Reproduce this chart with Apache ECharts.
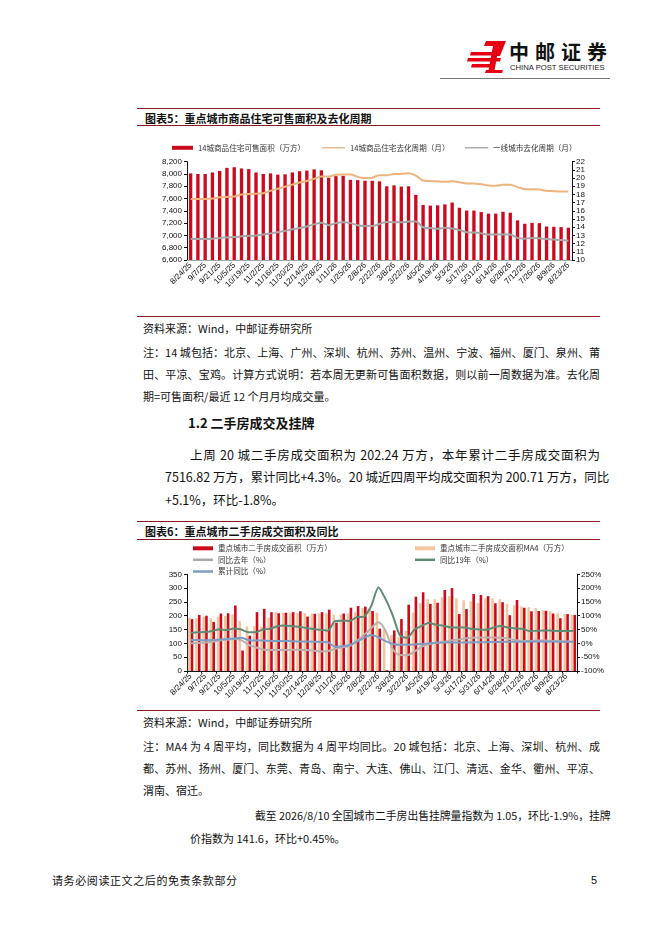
<!DOCTYPE html>
<html><head><meta charset="utf-8">
<script src="https://cdn.jsdelivr.net/npm/echarts@6/dist/echarts.min.js"></script>
<style>
html,body{margin:0;padding:0;background:#fff;}
#page{position:relative;width:662px;height:936px;overflow:hidden;font-family:"Noto Sans CJK SC","Noto Sans",sans-serif;color:#111;}
.t{position:absolute;white-space:nowrap;line-height:16px;height:16px;}
.j{text-align:justify;text-align-last:justify;}
.rl{position:absolute;height:1.4px;background:#8E1B22;}
.b{font-weight:bold;}
</style>
</head>
<body>
<div id="page">
  <svg style="position:absolute;left:0;top:0" width="662" height="100">
    <g fill="#E60012">
      <path d="M486,41 L506,41 L504,46 L484,46 Z"/>
      <path d="M471,52 L497,52 L496,55.5 L470,55.5 Z"/>
      <path d="M468,58 L501,58 L500,61.5 L467,61.5 Z"/>
      <path d="M472,64 L494,64 L493,67.5 L471,67.5 Z"/>
      <path d="M493,46 L499,46 L494,73 L488,73 Z"/>
      <path d="M486,70 L503,70 L502,73 L485,73 Z"/>
      <path d="M499,46 L504,46 L500,56 L496,56 Z"/>
    </g>
    <line x1="440" y1="78.5" x2="610" y2="78.5" stroke="#555" stroke-width="0.8"/>
  </svg>
  <div class="t b" style="left:509px;top:40px;height:24px;line-height:24px;font-size:20px;letter-spacing:6px;color:#111;">中邮证券</div>
  <div class="t" style="left:510px;top:63px;height:10px;line-height:10px;font-size:7.7px;font-family:'Liberation Sans',Arial,sans-serif;color:#222;">CHINA POST SECURITIES</div>

  <div class="rl" style="left:137px;top:107.6px;width:463px;"></div>
  <div class="t b" style="left:145px;top:109.5px;font-size:11px;">图表5：重点城市商品住宅可售面积及去化周期</div>
  <div class="rl" style="left:137px;top:124.6px;width:463px;"></div>

  <div id="c1" style="position:absolute;left:100px;top:135px;width:510px;height:180px;"></div>

  <div class="rl" style="left:137px;top:316px;width:463px;"></div>
  <div class="t" style="left:143px;top:320px;font-size:11px;">资料来源：Wind，中邮证券研究所</div>
  <div class="t j" style="left:143px;top:344px;width:457px;font-size:11px;">注：14 城包括：北京、上海、广州、深圳、杭州、苏州、温州、宁波、福州、厦门、泉州、莆</div>
  <div class="t j" style="left:143px;top:366px;width:457px;font-size:11px;">田、平凉、宝鸡。计算方式说明：若本周无更新可售面积数据，则以前一周数据为准。去化周</div>
  <div class="t" style="left:143px;top:388px;font-size:11px;">期=可售面积/最近 12 个月月均成交量。</div>

  <div class="t b" style="left:188px;top:415px;font-size:13px;">1.2 二手房成交及挂牌</div>
  <div class="t j" style="left:190px;top:447px;width:410px;font-size:12.5px;">上周 20 城二手房成交面积为 202.24 万方，本年累计二手房成交面积为</div>
  <div class="t j" style="left:165px;top:469px;width:435px;font-size:12.5px;">7516.82 万方，累计同比+4.3%。20 城近四周平均成交面积为 200.71 万方，同比</div>
  <div class="t" style="left:165px;top:492px;font-size:12.5px;">+5.1%，环比-1.8%。</div>

  <div class="rl" style="left:137px;top:521px;width:463px;"></div>
  <div class="t b" style="left:145px;top:523px;font-size:11px;">图表6：重点城市二手房成交面积及同比</div>
  <div class="rl" style="left:137px;top:538.6px;width:463px;"></div>

  <div id="c2" style="position:absolute;left:100px;top:540px;width:510px;height:168px;"></div>

  <div class="rl" style="left:137px;top:710px;width:463px;"></div>
  <div class="t" style="left:143px;top:714px;font-size:11px;">资料来源：Wind，中邮证券研究所</div>
  <div class="t j" style="left:143px;top:738px;width:457px;font-size:11px;">注：MA4 为 4 周平均，同比数据为 4 周平均同比。20 城包括：北京、上海、深圳、杭州、成</div>
  <div class="t j" style="left:143px;top:760px;width:457px;font-size:11px;">都、苏州、扬州、厦门、东莞、青岛、南宁、大连、佛山、江门、清远、金华、衢州、平凉、</div>
  <div class="t" style="left:143px;top:782px;font-size:11px;">渭南、宿迁。</div>

  <div class="t j" style="left:255px;top:807px;width:345px;font-size:10.8px;">截至 2026/8/10 全国城市二手房出售挂牌量指数为 1.05，环比-1.9%，挂牌</div>
  <div class="t" style="left:190px;top:830px;font-size:11px;">价指数为 141.6，环比+0.45%。</div>

  <div class="t" style="left:52px;top:872px;font-size:11px;letter-spacing:0.6px;">请务必阅读正文之后的免责条款部分</div>
  <div class="t" style="left:591px;top:872px;font-size:11px;font-family:'Liberation Sans',Arial,sans-serif;">5</div>
</div>
<script>
// ---------- Chart 5 data ----------
const dates1 = ["8/24/25","8/31/25","9/7/25","9/14/25","9/21/25","9/28/25","10/5/25","10/12/25","10/19/25","10/26/25",
"11/2/25","11/9/25","11/16/25","11/23/25","11/30/25","12/7/25","12/14/25","12/21/25","12/28/25","1/4/26",
"1/11/26","1/18/26","1/25/26","2/1/26","2/8/26","2/15/26","2/22/26","3/1/26","3/8/26","3/15/26",
"3/22/26","3/29/26","4/5/26","4/12/26","4/19/26","4/26/26","5/3/26","5/10/26","5/17/26","5/24/26",
"5/31/26","6/7/26","6/14/26","6/21/26","6/28/26","7/5/26","7/12/26","7/19/26","7/26/26","8/2/26",
"8/9/26","8/16/26","8/23/26"];
const stockArea = [8010,8000,8000,8025,8050,8100,8110,8090,8080,8025,
8000,8010,7990,7995,8025,8045,8055,8075,8060,7940,
7965,7970,7905,7900,7890,7890,7880,7800,7815,7795,
7800,7660,7495,7485,7490,7505,7535,7450,7405,7405,
7380,7355,7355,7385,7370,7245,7190,7205,7200,7145,
7140,7135,7125];
const cycle14 = [17.45,17.45,17.45,17.5,17.65,17.7,17.75,18.0,18.05,18.1,
18.15,18.45,18.7,18.95,19.2,19.45,19.65,19.9,20.2,20.2,
20.4,20.45,20.45,20.15,20.0,20.05,20.35,20.35,20.5,20.5,
20.6,20.3,19.7,19.65,19.6,19.55,19.6,19.5,19.35,19.35,
19.25,19.1,19.05,19.2,19.2,18.9,18.65,18.65,18.6,18.45,
18.4,18.35,18.35];
const cycleTier1 = [12.55,12.55,12.55,12.6,12.7,12.75,12.8,12.9,12.95,13.0,
13.1,13.25,13.4,13.55,13.75,13.9,14.1,14.35,14.55,14.25,
14.5,14.6,14.5,14.25,14.15,14.15,14.4,14.65,14.6,14.6,
14.7,14.7,14.0,13.9,13.8,13.95,13.85,13.65,13.4,13.35,
13.25,13.1,13.1,13.1,13.1,12.7,12.6,12.7,12.65,12.55,
12.5,12.45,12.35];
const leftTicks1 = {min:6600, max:8200, step:200};
const rightTicks1 = {min:10, max:22, step:1};
const names1 = ["14城商品住宅可售面积（万方）","14城商品住宅去化周期（月）","一线城市去化周期（月）"];

// ---------- Chart 6 data ----------
const dates2 = dates1.concat(["8/30/26"]);
const dealArea = [188,203,200,178,208,209,237,74,128,213,
225,213,209,211,213,216,197,207,213,222,
175,208,229,235,233,217,153,3,147,188,
240,269,285,243,247,293,300,206,224,279,
275,271,245,249,202,257,229,216,217,218,
208,191,206,203];
const dealMA4 = [193,191,197,191,197,199,205,181,161,163,
160,193,214,211,211,209,209,208,208,209,
204,205,209,212,228,226,211,151,130,123,
145,211,245,260,260,267,271,263,256,252,
246,263,263,260,243,238,234,231,228,220,
216,209,206,203];
const yoyLastYear = [0,1,3,6,10,13,16,12,-5,-14,
-22,-24,-24,-24,-23,-23,-24,-26,-29,-28,
-20,-14,-10,8,30,55,76,45,-20,-42,
-43,-30,-12,-3,2,5,10,14,18,20,
21,21,21,20,17,12,9,9,10,10,
9,8,7,7];
const yoy2019 = [38,40,41,45,51,48,54,50,40,40,
50,53,62,65,63,60,56,52,49,46,
81,82,81,95,97,135,203,160,100,28,
20,50,63,75,67,64,58,57,57,52,
50,49,58,63,57,54,52,44,46,47,
46,45,45,45];
const yoyCumulative = [12,12,11,12,14,16,17,20,12,10,
10,9,9,9,8,7,7,6,5,4,
-12,-10,-6,6,20,30,22,8,-2,-5,
-5,-4,-2,0,2,3,3,3,3,4,
4,5,5,5,6,6,6,7,7,7,
7,6,6,6];
const leftTicks2 = {min:0, max:350, step:50};
const rightTicks2 = {min:-100, max:250, step:50};
const names2 = ["重点城市二手房成交面积（万方）","重点城市二手房成交面积MA4（万方）","同比去年（%）","同比19年（%）","累计同比（%）"];

const CJK = "Noto Sans CJK SC";
const NUM = "Liberation Sans";
function thousands(v){ v=Math.round(v); const k=Math.floor(v/1000); const r=v%1000; return k>0? k+','+String(r).padStart(3,'0') : String(r); }
const legText = {fontSize:7.6, color:'#333', fontFamily:CJK};

// ---------- Chart 5 ----------
const c1 = echarts.init(document.getElementById('c1'));
c1.setOption({
  animation:false,
  legend:[
    {data:[names1[0]], left:72, top:9, itemWidth:21, itemHeight:4, icon:'rect', textStyle:legText, padding:0},
    {data:[names1[1]], left:222, top:9, itemWidth:23, itemHeight:1.3, icon:'rect', textStyle:legText, padding:0},
    {data:[names1[2]], left:365, top:9, itemWidth:23, itemHeight:1.3, icon:'rect', textStyle:legText, padding:0}
  ],
  grid:{left:87, top:26.7, width:385, height:98.3, containLabel:false},
  xAxis:{type:'category', data:dates1, boundaryGap:true,
    axisLine:{show:true, lineStyle:{color:'#aaa', width:1}}, axisTick:{show:false},
    axisLabel:{interval:1, rotate:45, fontSize:8, fontFamily:NUM, color:'#111', margin:4}},
  yAxis:[
    {type:'value', min:leftTicks1.min, max:leftTicks1.max, interval:leftTicks1.step,
     axisLine:{show:true, lineStyle:{color:'#111', width:1}}, axisTick:{show:true, length:3, lineStyle:{color:'#111'}},
     splitLine:{show:false}, axisLabel:{formatter:thousands, fontSize:8, fontFamily:NUM, color:'#111', margin:5}},
    {type:'value', position:'right', min:rightTicks1.min, max:rightTicks1.max, interval:rightTicks1.step,
     axisLine:{show:true, lineStyle:{color:'#111', width:1}}, axisTick:{show:true, length:3, lineStyle:{color:'#111'}},
     splitLine:{show:false}, axisLabel:{fontSize:8, fontFamily:NUM, color:'#111', margin:4}}
  ],
  series:[
    {name:names1[0], type:'bar', data:stockArea, barWidth:'46%', itemStyle:{color:'#CC0A1E'}},
    {name:names1[1], type:'line', yAxisIndex:1, data:cycle14, symbol:'none', smooth:0.3,
     lineStyle:{color:'#EDB47E', width:2}, itemStyle:{color:'#E3B07F'}},
    {name:names1[2], type:'line', yAxisIndex:1, data:cycleTier1, symbol:'none', smooth:0.3,
     lineStyle:{color:'#A6A6A6', width:2}, itemStyle:{color:'#A0A0A0'}}
  ]
});

// ---------- Chart 6 ----------
const c2 = echarts.init(document.getElementById('c2'));
const lg = (name, left, top, h) => ({data:[name], left:left, top:top, itemWidth:20, itemHeight:h, icon:'rect', textStyle:legText, padding:0});
c2.setOption({
  animation:false,
  legend:[
    lg(names2[0], 93, 4.5, 4),
    lg(names2[1], 315, 4.5, 4),
    lg(names2[2], 93, 16, 2.5),
    lg(names2[3], 315, 16, 2.5),
    lg(names2[4], 93, 27.7, 2.5)
  ],
  grid:{left:87, top:34.3, width:390, height:96.7, containLabel:false},
  xAxis:{type:'category', data:dates2, boundaryGap:true,
    axisLine:{show:true, lineStyle:{color:'#111', width:1}}, axisTick:{show:true, length:2.5, lineStyle:{color:'#111'}},
    axisLabel:{interval:1, rotate:45, fontSize:8, fontFamily:NUM, color:'#111', margin:4}},
  yAxis:[
    {type:'value', min:leftTicks2.min, max:leftTicks2.max, interval:leftTicks2.step,
     axisLine:{show:true, lineStyle:{color:'#111', width:1}}, axisTick:{show:true, length:3, lineStyle:{color:'#111'}},
     splitLine:{show:false}, axisLabel:{fontSize:8, fontFamily:NUM, color:'#111', margin:5}},
    {type:'value', position:'right', min:rightTicks2.min, max:rightTicks2.max, interval:rightTicks2.step,
     axisLine:{show:true, lineStyle:{color:'#111', width:1}}, axisTick:{show:true, length:3, lineStyle:{color:'#111'}},
     splitLine:{show:false}, axisLabel:{formatter:'{value}%', fontSize:8, fontFamily:NUM, color:'#111', margin:4}}
  ],
  series:[
    {name:names2[1], type:'bar', data:dealMA4, barWidth:'36%', barGap:'8%', itemStyle:{color:'#F3C6A0'}},
    {name:names2[0], type:'bar', data:dealArea, barWidth:'36%', barGap:'8%', itemStyle:{color:'#CC0A1E'}},
    {name:names2[2], type:'line', yAxisIndex:1, data:yoyLastYear, symbol:'none', smooth:0.3,
     lineStyle:{color:'#BDB0AC', width:2}, itemStyle:{color:'#A9A9A9'}},
    {name:names2[4], type:'line', yAxisIndex:1, data:yoyCumulative, symbol:'none', smooth:0.3,
     lineStyle:{color:'#7D9DC4', width:2}, itemStyle:{color:'#7D9DC4'}},
    {name:names2[3], type:'line', yAxisIndex:1, data:yoy2019, symbol:'none', smooth:0.2,
     lineStyle:{color:'#5E8B73', width:2}, itemStyle:{color:'#5E8B73'}}
  ]
});
</script>
</body></html>
